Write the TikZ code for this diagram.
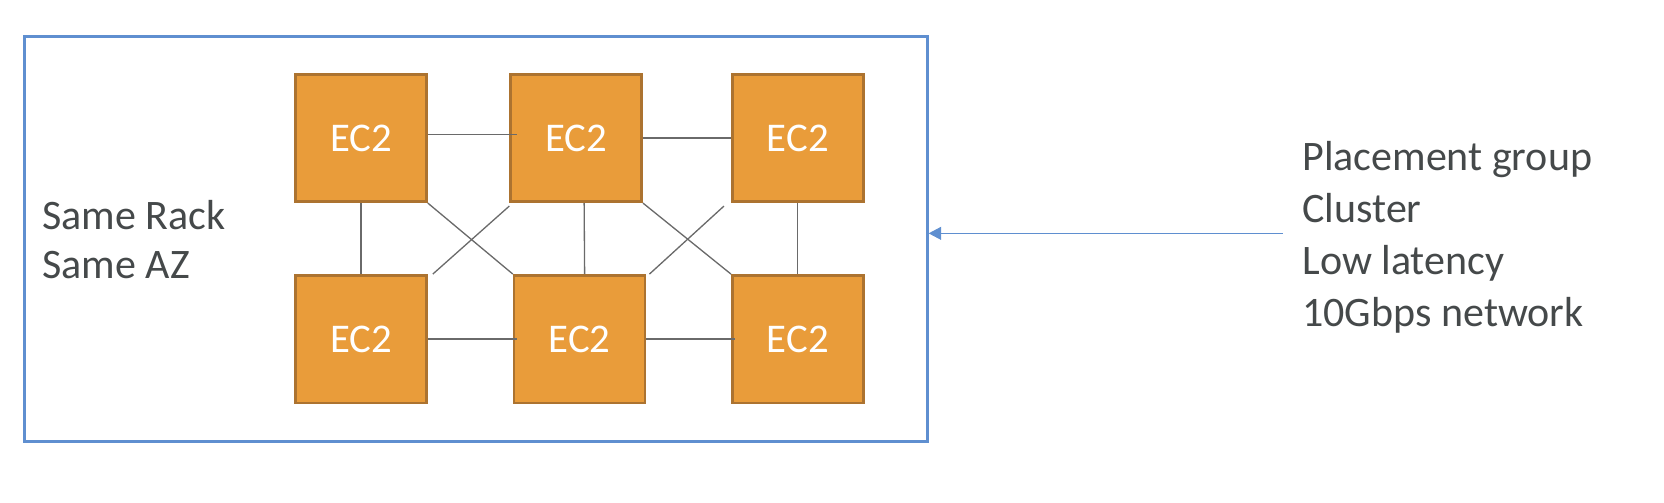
\documentclass[tikz,border=0pt]{standalone}
\usepackage{fontspec}
\setmainfont{Carlito}
\usetikzlibrary{positioning,arrows.meta}
\definecolor{awsorange}{HTML}{E99C3A}
\definecolor{awsborder}{HTML}{AC7330}
\definecolor{rackblue}{HTML}{5F8FD0}
\definecolor{linkgray}{HTML}{6A6A6A}
\definecolor{textgray}{HTML}{45494A}
\tikzset{line/.style={draw, rackblue, line width=0.6pt, -{Triangle[length=0.25cm, width=0.26cm]}}}

\begin{document}
\begin{tikzpicture}[node distance = 1.42cm and 1.63cm]
\tikzstyle{ec2} = [rectangle, draw=awsborder, line width=1.5pt, fill=awsorange, text=white, minimum width=2.62cm, minimum height=2.55cm, inner sep=0pt, font=\fontsize{23.2}{27}\selectfont]
\tikzstyle{rack} = [rectangle, draw=rackblue, line width=1.6pt, minimum width=18.06cm, minimum height=8.09cm]
\tikzstyle{link} = [draw=linkgray, line width=0.75pt]
\tikzstyle{label} = [text=textgray, align=left, inner sep=0pt, anchor=north west]

\useasboundingbox (0,0) rectangle (33.28,-10.04);

% rack frame
\node [rack](frame) at (9.515,-4.78){};

% instances
\node [ec2](t1) at (7.22,-2.76){EC2};
\node [ec2, right=1.63cm of t1](t2){EC2};
\node [ec2, right=1.76cm of t2](t3){EC2};
\node [ec2, below=1.42cm of t1](b1){EC2};
\node [ec2, right=1.70cm of b1](b2){EC2};
\node [ec2, below=1.42cm of t3](b3){EC2};

% links
\draw [link] ([yshift=0.07cm]t1.east) -- ([yshift=0.07cm, xshift=0.15cm]t2.west);
\draw [link] (t2.east) -- (t3.west);
\draw [link] (b1.east) -- ([xshift=0.08cm]b2.west);
\draw [link] (b2.east) -- ([xshift=0.08cm]b3.west);
\draw [link] (t1.south) -- (b1.north);
\draw [link] ([xshift=0.16cm]t2.south) -- ([xshift=0.1cm]b2.north);
\draw [link] (t3.south) -- (b3.north);
\draw [link] (t1.south east) -- (b2.north west);
\draw [link] ([yshift=-0.06cm]t2.south west) -- ([xshift=0.1cm]b1.north east);
\draw [link] (t2.south east) -- (b3.north west);
\draw [link] ([xshift=-0.14cm, yshift=-0.06cm]t3.south west) -- ([xshift=0.06cm]b2.north east);

% labels
\node [label, font=\fontsize{23.9}{27.9}\selectfont](rackinfo) at (0.84,-3.99){Same Rack\\Same AZ};
\node [label, font=\fontsize{23.9}{29.6}\selectfont](groupinfo) at (26.04,-2.81){Placement group\\Cluster\\Low latency\\10Gbps network};

% arrow to rack
\coordinate (src) at (25.65,-4.667);
\draw [line] (src) -- (src -| frame.east);

\end{tikzpicture}
\end{document}
